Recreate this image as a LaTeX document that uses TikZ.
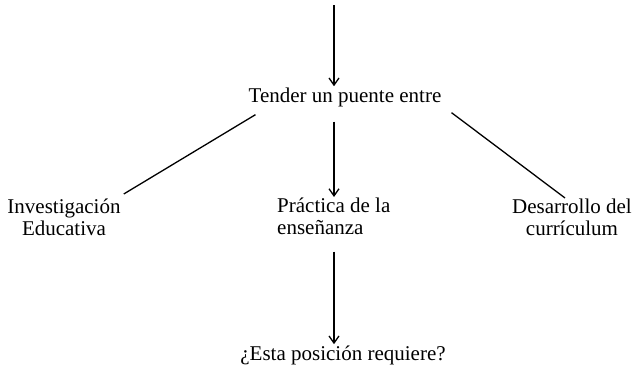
\documentclass[tikz,border=0pt]{standalone}
\usepackage{fontspec}
\setmainfont{Liberation Serif}
\usetikzlibrary{arrows.meta, positioning}
\tikzset{
  concept/.style = {font=\fontsize{21}{21.5}\selectfont, inner sep=1pt},
  link/.style = {line width=1.3pt},
  flow/.style = {link, -{Straight Barb[length=2.5mm, width=3.5mm]}}
}

\begin{document}
\begin{tikzpicture}[x=1pt, y=-1pt]
  \useasboundingbox (0,0) rectangle (635,372);

  % Bridge
  \node[concept, anchor=base] (tender) at (345,102) {Tender un puente entre};
  \coordinate (top) at (334,5);
  \draw[flow] (top) -- (top |- tender.north);

  % The three fields
  \node[concept, align=center, anchor=north] (inv) at (64,198) {Investigación\\Educativa};
  \node[concept, align=left, anchor=north west] (prac) at (276,197) {Práctica de la\\enseñanza};
  \node[concept, align=center, anchor=north] (des) at (572,198) {Desarrollo del\\currículum};

  \draw[link] ([shift={(8,7)}]tender.south west) -- ([shift={(2,-4)}]inv.north east);
  \draw[link] ([shift={(9,5)}]tender.south east) -- ([shift={(-7,0)}]des.north);
  \draw[flow] ([shift={(0,14)}]tender.south -| top) -- (top |- prac.north);

  % Question
  \node[concept, anchor=base] (esta) at (343,360) {¿Esta posición requiere?};
  \draw[flow] ([shift={(0,16)}]prac.south -| top) -- (top |- esta.north);

\end{tikzpicture}
\end{document}
